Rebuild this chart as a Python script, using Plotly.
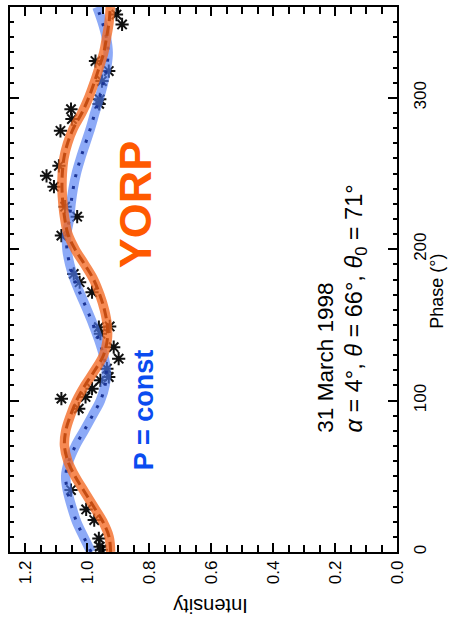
import plotly.graph_objects as go

# ---- data ----
model_phase = [0, 10, 20, 30, 40, 50, 60, 70, 80, 90, 100, 110, 120, 130, 140, 150, 160, 170, 180,
               190, 200, 210, 220, 230, 240, 250, 260, 270, 280, 290, 300, 310, 320, 330, 340, 350, 360]
pconst_intensity = [0.988, 1.012, 1.035, 1.051, 1.064, 1.070, 1.060, 1.039, 1.011, 0.984, 0.958, 0.943,
                    0.939, 0.948, 0.963, 0.981, 1.001, 1.022, 1.042, 1.057, 1.066, 1.067, 1.058, 1.053,
                    1.046, 1.036, 1.022, 1.006, 0.990, 0.976, 0.961, 0.948, 0.938, 0.933, 0.939, 0.952,
                    0.969]
yorp_intensity = [0.925, 0.930, 0.950, 0.980, 1.010, 1.040, 1.063, 1.074, 1.070, 1.055, 1.035, 1.008,
                  0.976, 0.948, 0.936, 0.936, 0.945, 0.960, 0.980, 1.009, 1.040, 1.063, 1.073, 1.079,
                  1.082, 1.081, 1.076, 1.064, 1.045, 1.018, 0.996, 0.978, 0.962, 0.947, 0.938, 0.930,
                  0.926]

obs_phase = [355, 348.5, 324.3, 317.7, 311.1, 299, 296, 292.5, 286, 278.2, 255.1, 248.5, 241.3,
             228.1, 221.5, 209, 183.7, 178.2, 171.6, 148.5, 149, 144.2, 135.3, 127.7, 121.1, 115.6,
             113.4, 107.9, 102.4, 101.3, 94.7, 40.9, 28.1, 21.1, 9.0, 3.5, 1.5]
obs_intensity = [0.906, 0.888, 0.974, 0.931, 0.953, 0.960, 0.962, 1.053, 1.050, 1.087, 1.092, 1.132,
                 1.108, 1.072, 1.033, 1.084, 1.044, 1.025, 0.985, 0.963, 0.928, 0.958, 0.915, 0.899,
                 0.937, 0.931, 0.958, 0.985, 1.006, 1.084, 1.028, 1.053, 1.004, 0.978, 0.963, 0.960,
                 0.955]

intensity_ticks = [0.0, 0.2, 0.4, 0.6, 0.8, 1.0, 1.2]
intensity_ticktext = ["0.0", "0.2", "0.4", "0.6", "0.8", "1.0", "1.2"]
phase_ticks = [0, 100, 200, 300]
phase_ticktext = ["0", "100", "200", "300"]

FONT = "Liberation Sans, Arial, Helvetica, sans-serif"

fig = go.Figure()

fig.add_trace(go.Scatter(
    x=obs_intensity, y=obs_phase, mode="markers",
    marker=dict(symbol="asterisk-open", size=11, color="#111111",
                line=dict(width=2, color="#111111")),
    showlegend=False))

fig.add_trace(go.Scatter(
    x=pconst_intensity, y=model_phase, mode="lines", line_shape="spline",
    line=dict(color="rgba(80,125,242,0.65)", width=9.5), showlegend=False))
fig.add_trace(go.Scatter(
    x=pconst_intensity, y=model_phase, mode="lines", line_shape="spline",
    line=dict(color="#1c3596", width=3, dash="3px,9px"), showlegend=False))
fig.add_trace(go.Scatter(
    x=yorp_intensity, y=model_phase, mode="lines", line_shape="spline",
    line=dict(color="rgba(244,105,35,0.78)", width=9.5), showlegend=False))
fig.add_trace(go.Scatter(
    x=yorp_intensity, y=model_phase, mode="lines", line_shape="spline",
    line=dict(color="#c44c12", width=3, dash="10px,5px"), showlegend=False))

axis_common = dict(
    showline=True, linewidth=1.5, linecolor="black", mirror="ticks",
    ticks="inside", tickwidth=1.5, tickcolor="black",
    showgrid=False, zeroline=False, tickangle=-90,
    tickfont=dict(family=FONT, size=17, color="black"),
)

fig.update_xaxes(range=[1.25, 0], tickvals=intensity_ticks, ticktext=intensity_ticktext,
                 ticklen=9,
                 minor=dict(dtick=0.05, tick0=0, ticks="inside", ticklen=7, tickwidth=1.5,
                            tickcolor="black", showgrid=False),
                 **axis_common)
fig.update_yaxes(range=[0, 360], side="right", tickvals=phase_ticks, ticktext=phase_ticktext,
                 ticklen=9, ticklabelstandoff=7,
                 minor=dict(dtick=10, tick0=0, ticks="inside", ticklen=4.5, tickwidth=1.5,
                            tickcolor="black", showgrid=False),
                 **axis_common)

ann_common = dict(showarrow=False, xanchor="center", yanchor="middle")
annotations = [
    dict(text="<b>YORP</b>", x=0.845, y=230, xref="x", yref="y", textangle=-90,
         font=dict(family=FONT, size=45, color="#ff5a00"), **ann_common),
    dict(text="<b>P = const</b>", x=0.819, y=94, xref="x", yref="y", textangle=-90,
         font=dict(family=FONT, size=27, color="#0a4cf0"), **ann_common),
    dict(text="31 March 1998", x=0.232, y=128.5, xref="x", yref="y", textangle=-90,
         font=dict(family=FONT, size=22.5, color="black"), **ann_common),
    dict(text="<i>α</i> = 4°, <i>θ</i> = 66°, <i>θ</i><sub>0</sub> = 71°", x=0.135, y=161,
         xref="x", yref="y", textangle=-90,
         font=dict(family=FONT, size=23.5, color="black"), **ann_common),
    dict(text="Phase (°)", x=1.103, y=0.479, xref="paper", yref="paper", textangle=-90,
         font=dict(family=FONT, size=18, color="black"), **ann_common),
    dict(text="Intensity", x=0.519, y=-0.0987, xref="paper", yref="paper", textangle=180,
         font=dict(family=FONT, size=20, color="black"), **ann_common),
]
fig.update_layout(
    width=450, height=624,
    margin=dict(l=10, r=53, t=5, b=72),
    paper_bgcolor="white", plot_bgcolor="white",
    annotations=annotations,
    showlegend=False,
)

fig.write_html("out.html", config={"displayModeBar": False},
               post_script="document.body.style.margin='0';document.body.style.overflow='hidden';")
